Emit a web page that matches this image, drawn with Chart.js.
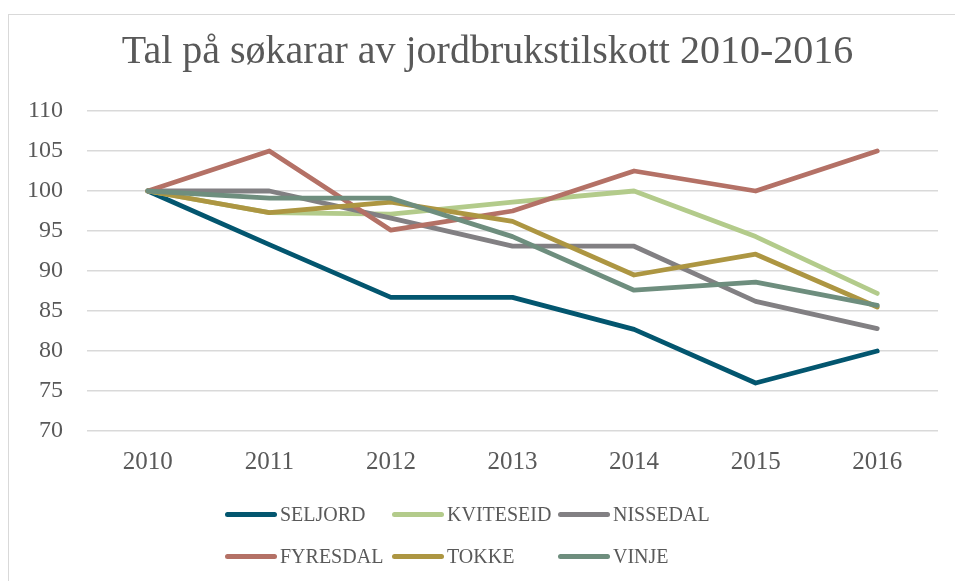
<!DOCTYPE html>
<html>
<head>
<meta charset="utf-8">
<script src="https://cdn.jsdelivr.net/npm/chart.js@4/dist/chart.umd.min.js"></script>
<style>
  html, body { margin: 0; padding: 0; background: #fff; overflow: hidden; }
  body { width: 955px; height: 581px; position: relative; }
  #frame {
    position: absolute; left: 8px; top: 14px; width: 958px; height: 580px;
    border-left: 1px solid #d9d9d9; border-top: 1px solid #d9d9d9;
  }
  #wrap { position: absolute; left: 0; top: 0; width: 958px; height: 566px; }
  #legend { position: absolute; left: 0; top: 0; font-family: "Liberation Serif", serif; font-size: 20px; color: #595959; }
  .lg-item { position: absolute; display: flex; align-items: center; height: 24px; white-space: nowrap; }
  .lg-line { width: 52px; height: 5px; border-radius: 3px; margin-right: 3px; }
</style>
</head>
<body>
<div id="frame">
  <div id="wrap"><canvas id="chart"></canvas></div>
</div>
<div id="legend"></div>
<script>
// ── data ──
const years = ['2010', '2011', '2012', '2013', '2014', '2015', '2016'];
const seljord   = [100, 93.3, 86.7, 86.7, 82.7, 76.0, 80.0];
const kviteseid = [100, 97.3, 97.1, 98.6, 100, 94.3, 87.2];
const nissedal  = [100, 100, 96.6, 93.1, 93.1, 86.2, 82.8];
const fyresdal  = [100, 105, 95.1, 97.5, 102.5, 100, 105];
const tokke     = [100, 97.3, 98.6, 96.2, 89.5, 92.1, 85.5];
const vinje     = [100, 99.1, 99.1, 94.3, 87.6, 88.6, 85.7];
const yTicks    = [70, 75, 80, 85, 90, 95, 100, 105, 110];

const names  = ['SELJORD', 'KVITESEID', 'NISSEDAL', 'FYRESDAL', 'TOKKE', 'VINJE'];
const series = [seljord, kviteseid, nissedal, fyresdal, tokke, vinje];
const colors = ['#03566f', '#b3cb8b', '#828083', '#b47166', '#ad9642', '#6e8e7e'];

const FONT = '"Liberation Serif", serif';
const TXT  = '#595959';

const datasets = series.map((d, i) => ({
  label: names[i],
  data: d,
  borderColor: colors[i],
  backgroundColor: colors[i],
  borderWidth: 4.8,
  borderCapStyle: 'round',
  borderJoinStyle: 'round',
  pointRadius: 0,
  tension: 0,
  order: series.length - i,   // later series drawn on top, like Excel
}));

// Excel centres the title on the whole chart frame, not on the plot box
const shiftTitle = {
  id: 'shiftTitle',
  afterLayout(chart) {
    if (chart.titleBlock) chart.titleBlock.left += 28;
  }
};

const chart = new Chart(document.getElementById('chart'), {
  type: 'line',
  data: { labels: years, datasets },
  plugins: [shiftTitle],
  options: {
    responsive: true,
    maintainAspectRatio: false,
    animation: false,
    layout: { padding: { left: 0, right: 29, top: 0, bottom: 96 } },
    plugins: {
      legend: { display: false },
      tooltip: { enabled: false },
      title: {
        display: true,
        text: 'Tal på søkarar av jordbrukstilskott 2010-2016',
        color: TXT,
        font: { family: FONT, size: 40, weight: 'normal' },
        padding: { top: 13, bottom: 35 },
      }
    },
    scales: {
      x: {
        offset: true,
        grid: { display: false },
        border: { display: false },
        ticks: { color: TXT, font: { family: FONT, size: 25 }, padding: 8 },
      },
      y: {
        min: 70, max: 110,
        afterBuildTicks: s => { s.ticks = yTicks.map(v => ({ value: v })); },
        afterFit: s => { s.width = 78; },
        grid: { color: '#d9d9d9', lineWidth: 1.4, drawTicks: false },
        border: { display: false },
        ticks: { color: TXT, font: { family: FONT, size: 24 }, padding: 24 },
      }
    }
  }
});

// ── legend (Excel-style fixed columns) ──
const lg = document.getElementById('legend');
const colX = [225, 392, 558];
const rowY = [514, 556];
chart.data.datasets.forEach((ds, i) => {
  const it = document.createElement('div');
  it.className = 'lg-item';
  it.style.left = colX[i % 3] + 'px';
  it.style.top = (rowY[Math.floor(i / 3)] - 12) + 'px';
  it.innerHTML = `<span class="lg-line" style="background:${ds.borderColor}"></span><span>${ds.label}</span>`;
  lg.appendChild(it);
});
</script>
</body>
</html>
